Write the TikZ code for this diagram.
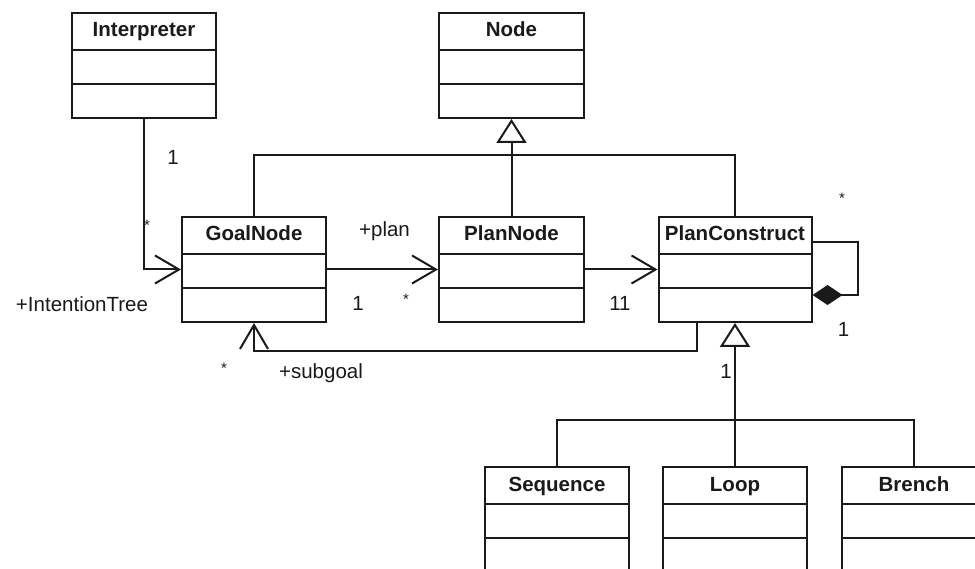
\documentclass[tikz,border=0pt]{standalone}
\usepackage{fontspec}
\setmainfont{Liberation Sans}
\usetikzlibrary{arrows.meta}
\definecolor{ink}{HTML}{1A1A1A}
\newcommand\umlcls[5]{%
  \node[cls, minimum width=#4pt] (#1) at (#2,#3) {};
  \draw ([yshift=-38pt]#1.north west) -- ([yshift=-38pt]#1.north east);
  \draw ([yshift=-72pt]#1.north west) -- ([yshift=-72pt]#1.north east);
  \node[clstitle] (#1-t) at (#2,#3+25) {#5};
}
\begin{document}
\begin{tikzpicture}[x=1pt,y=-1pt,
  line width=2pt, draw=ink,
  cls/.style={draw=ink, fill=white, minimum height=105pt, anchor=north, inner sep=0pt},
  clstitle/.style={font=\fontsize{20.5}{24}\selectfont\bfseries, text=ink, inner sep=0pt, anchor=base},
  lbl/.style={font=\fontsize{20.5}{24}\selectfont, text=ink, inner sep=0pt, anchor=base},
  star/.style={font=\fontsize{15}{18}\selectfont, text=ink, inner sep=0pt, anchor=center},
  assoc/.style={-{Straight Barb[length=24pt,width=28pt]}},
  gen/.style={-{Triangle[open,length=24pt,width=30pt,fill=white]}},
  comp/.style={-{Diamond[length=30pt,width=20pt]}}
]
\useasboundingbox (0,0) rectangle (975,569);
\clip (0,0) rectangle (975,569);
\fill[white] (0,0) rectangle (975,569);

% classes
\umlcls{interp}{144}{12}{144}{Interpreter}
\umlcls{node}{511.5}{12}{145}{Node}
\umlcls{goal}{254}{216}{144}{GoalNode}
\umlcls{plan}{511.5}{216}{145}{PlanNode}
\umlcls{pc}{735}{216}{153}{PlanConstruct}
\umlcls{seq}{557}{466}{144}{Sequence}
\umlcls{loop}{735}{466}{144}{Loop}
\umlcls{brench}{914}{466}{144}{Brench}

% junctions
\coordinate (jn) at (511.5,155);
\coordinate (jb) at (735,420);

% generalization to Node
\draw (goal.north) |- (jn) -| (pc.north);
\draw[gen] (plan.north) -- (node.south);

% generalization to PlanConstruct
\draw (seq.north) |- (jb) -| (brench.north);
\draw[gen] (loop.north) -- (pc.south);

% associations
\draw[assoc] (interp.south) |- (goal.west);
\draw[assoc] (goal.east) -- (plan.west);
\draw[assoc] (plan.east) -- (pc.west);
\draw[assoc] ([xshift=-38pt]pc.south) -- ++(0,28) -| (goal.south);

% composition self loop
\draw[comp] ([yshift=-26pt]pc.north east) -- ++(45,0) |- ([yshift=-79pt]pc.north east);

% labels
\node[lbl] (l1) at (173,165) {1};
\node[star] (s1) at (147,225) {*};
\node[lbl] (lit) at (82,312) {+IntentionTree};
\node[lbl] (lplan) at (384.5,237) {+plan};
\node[lbl] (l2) at (358,311) {1};
\node[star] (s2) at (406,299) {*};
\node[lbl] (l3) at (620,311) {11};
\node[star] (s3) at (224,368) {*};
\node[lbl] (lsub) at (321,378) {+subgoal};
\node[star] (s4) at (842,198) {*};
\node[lbl] (l4) at (843.5,337) {1};
\node[lbl] (l5) at (726,379) {1};
\end{tikzpicture}
\end{document}
